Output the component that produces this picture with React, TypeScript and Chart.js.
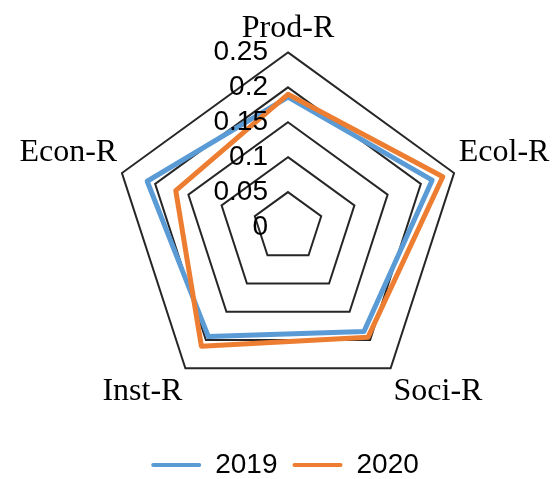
import React, { useEffect, useRef } from 'react';
import { Chart, registerables } from 'chart.js';

Chart.register(...registerables);

const CATEGORIES = ['Prod-R', 'Ecol-R', 'Soci-R', 'Inst-R', 'Econ-R'];
const SERIES_2019 = [0.186, 0.217, 0.185, 0.194, 0.212];
const SERIES_2020 = [0.19, 0.233, 0.195, 0.211, 0.169];
const TICK_VALUES = [0, 0.05, 0.1, 0.15, 0.2, 0.25];
const TICK_LABELS = ['0', '0.05', '0.1', '0.15', '0.2', '0.25'];

const SANS = "'Liberation Sans', Arial, sans-serif";
const SERIF = "'Liberation Serif', 'Times New Roman', serif";

const tickLabelPlugin = {
  id: 'tickLabels',
  afterDatasetsDraw(chart: any) {
    const scale = chart.scales.r;
    const ctx = chart.ctx;
    ctx.save();
    ctx.font = `28px ${SANS}`;
    ctx.fillStyle = '#000';
    ctx.textAlign = 'right';
    ctx.textBaseline = 'middle';
    TICK_VALUES.forEach((v, i) => {
      const d = scale.getDistanceFromCenterForValue(v);
      ctx.fillText(TICK_LABELS[i], scale.xCenter - 20, scale.yCenter - d);
    });
    ctx.restore();
  },
};

export default function App() {
  const ref = useRef<HTMLCanvasElement>(null);
  useEffect(() => {
    const chart = new Chart(ref.current as HTMLCanvasElement, {
      type: 'radar',
      data: {
        labels: CATEGORIES,
        datasets: [
          {
            label: '2019',
            data: SERIES_2019,
            borderColor: '#5B9BD5',
            backgroundColor: '#5B9BD5',
            borderWidth: 5,
            fill: false,
            pointRadius: 0,
            borderJoinStyle: 'round',
            borderCapStyle: 'round',
            order: 1,
          },
          {
            label: '2020',
            data: SERIES_2020,
            borderColor: '#ED7D31',
            backgroundColor: '#ED7D31',
            borderWidth: 5,
            fill: false,
            pointRadius: 0,
            borderJoinStyle: 'round',
            borderCapStyle: 'round',
            order: 0,
          },
        ],
      },
      options: {
        animation: false,
        responsive: true,
        maintainAspectRatio: false,
        events: [],
        scales: {
          r: {
            min: 0,
            max: 0.25,
            beginAtZero: true,
            ticks: { display: false, stepSize: 0.05 },
            grid: { color: '#262626', lineWidth: 2 },
            angleLines: { display: false },
            pointLabels: {
              font: { family: SERIF, size: 32 },
              color: '#000',
              padding: 5,
            },
          },
        },
        plugins: {
          tooltip: { enabled: false },
          legend: {
            position: 'bottom',
            title: { display: true, text: '', padding: 0, font: { size: 12, lineHeight: 1 } },
            labels: {
              boxWidth: 50,
              boxHeight: 4,
              padding: 15,
              color: '#000',
              font: { family: SANS, size: 28 },
              generateLabels: (c: any) => {
                const items = (Chart as any).defaults.plugins.legend.labels.generateLabels(c);
                return items
                  .sort((a: any, b: any) => a.datasetIndex - b.datasetIndex)
                  .map((it: any) => ({ ...it, fillStyle: it.strokeStyle, lineWidth: 0, borderRadius: 2 }));
              },
            },
          },
        },
      } as any,
      plugins: [tickLabelPlugin],
    });
    return () => chart.destroy();
  }, []);
  return (
    <div style={{ position: 'fixed', left: 0, top: 0, width: 554, height: 479, overflow: 'hidden', background: '#fff' }}>
      <div style={{ position: 'absolute', left: 8, top: -12, width: 554, height: 501 }}>
        <canvas ref={ref} />
      </div>
    </div>
  );
}
